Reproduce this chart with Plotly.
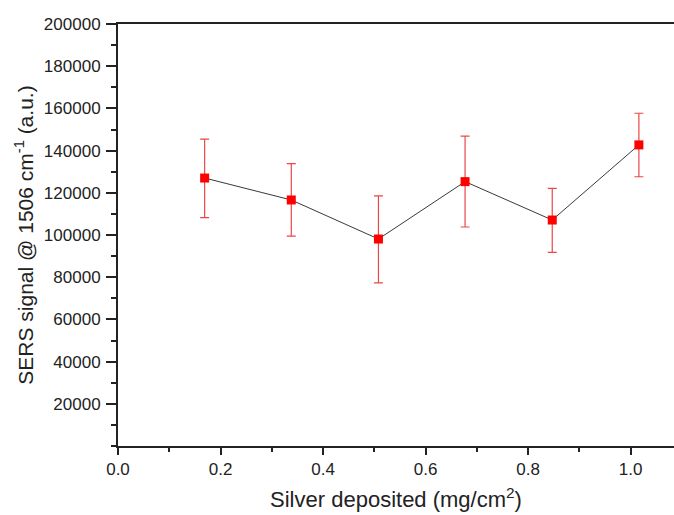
import plotly.graph_objects as go

silver = [0.169, 0.338, 0.508, 0.677, 0.847, 1.016]
signal = [127000, 116600, 98100, 125300, 107100, 142700]
err_plus = [18400, 17200, 20400, 21600, 15000, 15000]
err_minus = [18800, 17100, 20800, 21500, 15300, 15100]

x_ticks = [0.0, 0.2, 0.4, 0.6, 0.8, 1.0]
y_ticks = [20000, 40000, 60000, 80000, 100000, 120000, 140000, 160000, 180000, 200000]

FONT = "Liberation Sans, Arial, sans-serif"

fig = go.Figure()
fig.add_trace(go.Scatter(
    x=silver, y=signal,
    mode="lines+markers",
    line=dict(color="#3a3a3a", width=1),
    marker=dict(symbol="square", size=9, color="#ff0000"),
    error_y=dict(type="data", symmetric=False, array=err_plus, arrayminus=err_minus,
                 color="rgba(230,40,40,0.85)", thickness=1.2, width=4.5),
    showlegend=False,
))

tick_font = dict(family=FONT, size=17, color="#222")
fig.update_layout(
    width=674, height=515,
    margin=dict(l=118, r=0, t=24, b=69),
    plot_bgcolor="white", paper_bgcolor="white",
    font=dict(family=FONT, color="#222"),
    xaxis=dict(
        range=[0, 1.0845],
        tickvals=x_ticks, ticktext=[f"{v:.1f}" for v in x_ticks],
        ticks="outside", ticklen=7, tickwidth=1.5, tickcolor="#222",
        minor=dict(ticks="outside", ticklen=4, tickwidth=1.5, tickcolor="#222", dtick=0.1, tick0=0),
        showline=True, linewidth=2, linecolor="#222", mirror=True,
        showgrid=False, zeroline=False, automargin=False,
        tickfont=tick_font,
        title=dict(text="Silver deposited (mg/cm<sup>2</sup>)",
                   font=dict(family=FONT, size=22, color="#222"), standoff=13),
    ),
    yaxis=dict(
        range=[0, 200000],
        tickvals=y_ticks, ticktext=[str(v) for v in y_ticks],
        ticks="outside", ticklen=10, tickwidth=1.5, tickcolor="#222",
        minor=dict(ticks="outside", ticklen=5, tickwidth=1.5, tickcolor="#222", dtick=10000, tick0=0),
        showline=True, linewidth=2, linecolor="#222",
        showgrid=False, zeroline=False, automargin=False,
        tickfont=tick_font, ticklabelstandoff=2,
        title=dict(text="SERS signal @ 1506 cm<sup>-1</sup> (a.u.)",
                   font=dict(family=FONT, size=21, color="#222"), standoff=5),
    ),
)

fig.write_html("out.html", config={"displayModeBar": False},
               post_script="document.body.style.margin='0px';")
